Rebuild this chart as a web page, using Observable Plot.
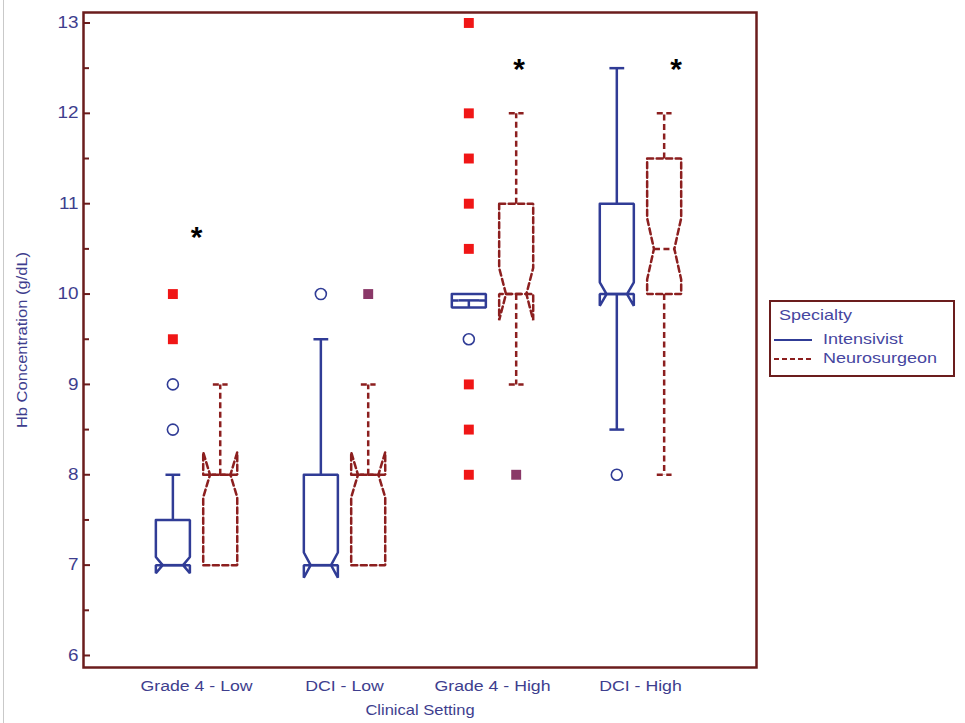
<!DOCTYPE html>
<html>
<head>
<meta charset="utf-8">
<script src="https://cdn.jsdelivr.net/npm/d3@7"></script>
<script src="https://cdn.jsdelivr.net/npm/@observablehq/plot@0.6"></script>
<style>
  html, body { margin: 0; padding: 0; background: #fff; }
  #wrap { position: relative; width: 965px; height: 723px; overflow: hidden; background: #fff; }
  #edge { position: absolute; left: 3px; top: 0; width: 0; height: 723px; border-left: 1px solid #c9c9c9; }
  #legend { position: absolute; left: 769px; top: 300px; width: 186px; height: 77px; box-sizing: border-box;
            border: 2px solid #6b1d1d; font-family: "Liberation Sans", Arial, sans-serif; font-size: 15px; color: #4646a0; }
  #legend .t { position: absolute; white-space: nowrap; transform-origin: left center; transform: scaleX(1.2); line-height: 16px; }
  #legend svg { position: absolute; }
</style>
</head>
<body>
<div id="wrap">
  <div id="chart"></div>
  <div id="edge"></div>
  <div id="legend"></div>
</div>
<script>
// ---------- data ----------
const groups = ["Grade 4 - Low", "DCI - Low", "Grade 4 - High", "DCI - High"];
const specialties = ["Intensivist", "Neurosurgeon"];
const yTicks = [6, 7, 8, 9, 10, 11, 12, 13];
const yMinorTicks = [6.5, 7.5, 8.5, 9.5, 10.5, 11.5, 12.5];

const intensivistQ1 = [7, 7, 9.85, 10];
const intensivistMedian = [7, 7, 9.93, 10];
const intensivistQ3 = [7.5, 8, 10, 11];
const intensivistLow = [7, 7, 9.85, 8.5];
const intensivistHigh = [8, 9.5, 10, 12.5];
const intensivistNotch = [0.09, 0.14, 0, 0.13];

const neurosurgeonQ1 = [7, 7, 10, 10];
const neurosurgeonMedian = [8, 8, 10, 10.5];
const neurosurgeonQ3 = [8, 8, 11, 11.5];
const neurosurgeonLow = [7, 7, 9, 8];
const neurosurgeonHigh = [9, 9, 12, 12];
const neurosurgeonNotch = [0.25, 0.25, 0.29, 0.34];

// outliers shown as open circles (Intensivist)
const mildOutlierGroup = [0, 0, 1, 2, 3];
const mildOutlierValue = [8.5, 9, 10, 9.5, 8];
// far outliers (squares)
const farIntensivistGroup = [0, 0, 2, 2, 2, 2, 2, 2, 2, 2];
const farIntensivistValue = [9.5, 10, 8, 8.5, 9, 10.5, 11, 11.5, 12, 13];
const farNeurosurgeonGroup = [1, 2];
const farNeurosurgeonValue = [10, 8];

// significance markers
const asteriskGroup = [0, 2, 3];
const asteriskShift = [0, 0.18, 0.24];
const asteriskValue = [10.67, 12.53, 12.53];

// ---------- styling / layout ----------
const frameColor = "#6b1d1d";
const intColor = "#303c96";
const neuColor = "#8c1f1f";
const textColor = "#3e3e8e";
const redSquare = "#f01616";
const purpleSquare = "#8a3868";
const specialtyOffset = [-0.16, 0.16];
const W = 0.115, WI = 0.6 * W, CAP = 0.05;
const textStretch = 1.18;

function buildBoxes(si, q1, med, q3, lo, hi, notch) {
  const outline = [], medians = [], whiskers = [], caps = [], stems = [];
  groups.forEach((g, gi) => {
    const cx = gi + specialtyOffset[si];
    const id = si + "-" + gi;
    const n = notch[gi];
    [[cx - W, q3[gi]], [cx + W, q3[gi]], [cx + W, med[gi] + n], [cx + WI, med[gi]], [cx + W, med[gi] - n],
     [cx + W, q1[gi]], [cx - W, q1[gi]], [cx - W, med[gi] - n], [cx - WI, med[gi]], [cx - W, med[gi] + n],
     [cx - W, q3[gi]]].forEach(([x, y]) => outline.push({id, x, y}));
    medians.push({x1: cx - WI, x2: cx + WI, y: med[gi]});
    if (n === 0) stems.push({x: cx, y1: med[gi], y2: q1[gi]});
    if (hi[gi] > q3[gi]) {
      whiskers.push({x: cx, y1: q3[gi], y2: hi[gi]});
      caps.push({x1: cx - CAP, x2: cx + CAP, y: hi[gi]});
    }
    if (lo[gi] < q1[gi]) {
      whiskers.push({x: cx, y1: q1[gi], y2: lo[gi]});
      caps.push({x1: cx - CAP, x2: cx + CAP, y: lo[gi]});
    }
  });
  return {outline, medians, whiskers: whiskers.concat(stems), caps};
}

const intB = buildBoxes(0, intensivistQ1, intensivistMedian, intensivistQ3, intensivistLow, intensivistHigh, intensivistNotch);
const neuB = buildBoxes(1, neurosurgeonQ1, neurosurgeonMedian, neurosurgeonQ3, neurosurgeonLow, neurosurgeonHigh, neurosurgeonNotch);

const mild = mildOutlierGroup.map((g, i) => ({x: g + specialtyOffset[0], y: mildOutlierValue[i]}));
const farInt = farIntensivistGroup.map((g, i) => ({x: g + specialtyOffset[0], y: farIntensivistValue[i]}));
const farNeu = farNeurosurgeonGroup.map((g, i) => ({x: g + specialtyOffset[1], y: farNeurosurgeonValue[i]}));
const stars = asteriskGroup.map((g, i) => ({x: g + asteriskShift[i], y: asteriskValue[i]}));

function boxMarks(b, color, dash) {
  const common = {stroke: color, strokeWidth: 2.5, strokeDasharray: dash};
  return [
    Plot.link(b.whiskers, {x1: "x", x2: "x", y1: "y1", y2: "y2", ...common}),
    Plot.link(b.caps, {x1: "x1", x2: "x2", y1: "y", y2: "y", ...common}),
    Plot.line(b.outline, {x: "x", y: "y", z: "id", strokeLinejoin: "miter", ...common}),
    Plot.link(b.medians, {x1: "x1", x2: "x2", y1: "y", y2: "y", ...common})
  ];
}

const frameW = 756 - 83;

const chart = Plot.plot({
  width: 965,
  height: 723,
  marginLeft: 83,
  marginRight: 209,
  marginTop: 12,
  marginBottom: 56,
  x: {domain: [-0.764, 3.784], axis: null},
  y: {domain: [5.867, 13.116], axis: null},
  style: {fontFamily: "'Liberation Sans', Arial, sans-serif", fontSize: "15px", color: textColor, background: "white", overflow: "visible"},
  marks: [
    Plot.tickY(yTicks, {y: d => d, stroke: frameColor, strokeWidth: 2, insetRight: frameW - 7}),
    Plot.tickY(yMinorTicks, {y: d => d, stroke: frameColor, strokeWidth: 2, insetRight: frameW - 6}),
    Plot.text(yTicks, {y: d => d, frameAnchor: "left", dx: -5, textAnchor: "end", text: d => String(d), fontSize: 16}),
    Plot.text(groups.map((g, i) => i), {x: d => d, frameAnchor: "bottom", dy: 23, text: d => groups[d]}),
    Plot.text(["Clinical Setting"], {frameAnchor: "bottom", dy: 47, textAnchor: "middle", text: d => d, fontSize: 14}),
    Plot.text(["Hb Concentration (g/dL)"], {frameAnchor: "left", dx: -61, rotate: -90, textAnchor: "middle", text: d => d, fontSize: 14}),
    ...boxMarks(neuB, neuColor, "6,3.5"),
    ...boxMarks(intB, intColor, null),
    Plot.dot(mild, {x: "x", y: "y", r: 5.5, stroke: intColor, strokeWidth: 1.6, fill: "white"}),
    Plot.dot(farInt, {x: "x", y: "y", symbol: "square", r: 5.6, fill: redSquare, stroke: "none"}),
    Plot.dot(farNeu, {x: "x", y: "y", symbol: "square", r: 5.6, fill: purpleSquare, stroke: "none"}),
    Plot.text(stars, {x: "x", y: "y", text: () => "*", fontSize: 30, fontWeight: "bold", fill: "black", dy: 4}),
    Plot.frame({stroke: frameColor, strokeWidth: 2.5})
  ]
});

// widen label glyphs like the original rendering
chart.querySelectorAll("text").forEach(t => {
  if (t.textContent === "*") return;
  const tr = t.getAttribute("transform") || "";
  t.setAttribute("transform", tr + ` scale(${textStretch},1)`);
});

document.getElementById("chart").appendChild(chart);

// ---------- legend ----------
const legend = document.getElementById("legend");
const title = document.createElement("div");
title.className = "t";
title.style.left = "8px";
title.style.top = "5px";
title.textContent = "Specialty";
legend.appendChild(title);
specialties.forEach((s, i) => {
  const cy = 38 + i * 19;
  const ns = "http://www.w3.org/2000/svg";
  const sv = document.createElementNS(ns, "svg");
  sv.setAttribute("width", "40");
  sv.setAttribute("height", "6");
  sv.style.left = "3px";
  sv.style.top = (cy - 3) + "px";
  const ln = document.createElementNS(ns, "line");
  ln.setAttribute("x1", "0"); ln.setAttribute("x2", "38");
  ln.setAttribute("y1", "3"); ln.setAttribute("y2", "3");
  ln.setAttribute("stroke", i === 0 ? intColor : neuColor);
  ln.setAttribute("stroke-width", "2");
  if (i === 1) ln.setAttribute("stroke-dasharray", "5,3");
  sv.appendChild(ln);
  legend.appendChild(sv);
  const lab = document.createElement("div");
  lab.className = "t";
  lab.style.left = "52px";
  lab.style.top = (cy - 9) + "px";
  lab.textContent = s;
  legend.appendChild(lab);
});
</script>
</body>
</html>
